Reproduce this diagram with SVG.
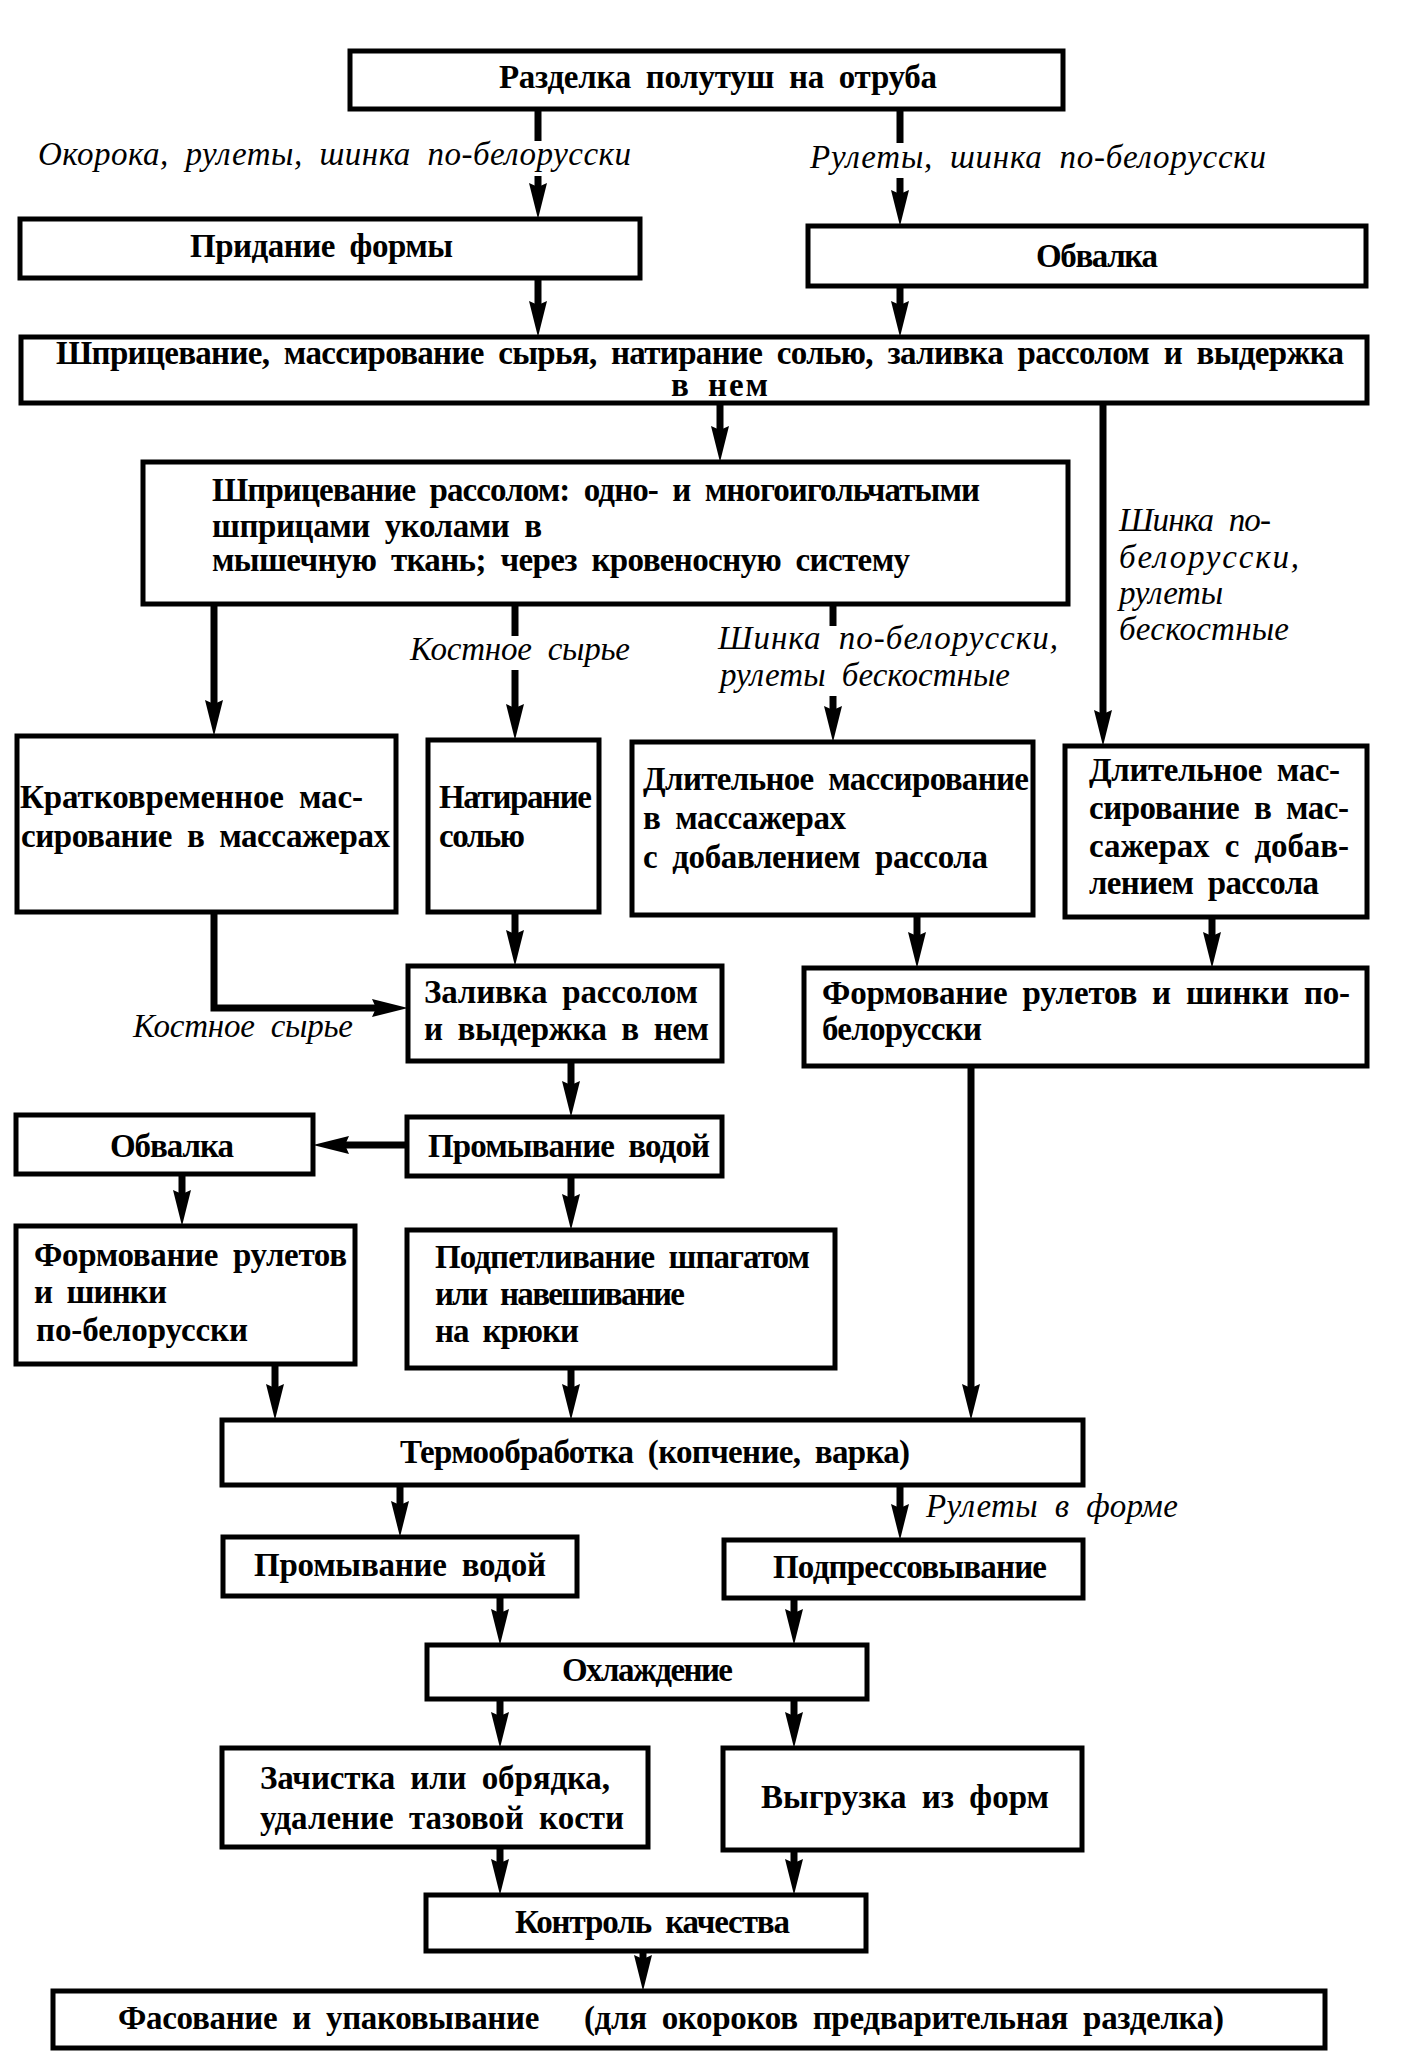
<svg xmlns="http://www.w3.org/2000/svg" width="1401" height="2066" viewBox="0 0 1401 2066">
<defs>
<style>
.box{fill:#fff;stroke:#000;stroke-width:5}
.t{font-family:"Liberation Serif","Times New Roman",serif;font-weight:bold;font-size:33px;word-spacing:7px;fill:#000}
.l{font-family:"Liberation Serif","Times New Roman",serif;font-style:italic;font-size:33px;word-spacing:8px;fill:#000}
.c{fill:none;stroke:#000;stroke-width:7}
.ca{fill:none;stroke:#000;stroke-width:7;marker-end:url(#ah)}
</style>
<marker id="ah" viewBox="0 0 36 18" refX="14" refY="9" markerWidth="36" markerHeight="18" markerUnits="userSpaceOnUse" orient="auto"><path d="M0,0 L36,9 L0,18 L4,9 z" fill="#000"/></marker>
</defs>
<rect x="0" y="0" width="1401" height="2066" fill="#fff"/>

<g id="connectors">
<path class="c" d="M538,109 V141"/>
<path class="ca" d="M538,176 V197"/>
<path class="c" d="M900,110 V143"/>
<path class="ca" d="M900,178 V204"/>
<path class="ca" d="M538,278 V315"/>
<path class="ca" d="M900,286 V315"/>
<path class="ca" d="M720,403 V440"/>
<path class="ca" d="M1103,404 V724"/>
<path class="ca" d="M214,604 V714"/>
<path class="c" d="M515,604 V636"/>
<path class="ca" d="M515,670 V718"/>
<path class="c" d="M833,604 V626"/>
<path class="ca" d="M833,696 V720"/>
<path class="ca" d="M214,912 V1008 H386"/>
<path class="ca" d="M515,912 V944"/>
<path class="ca" d="M917,915 V946"/>
<path class="ca" d="M1212,917 V946"/>
<path class="ca" d="M571,1061 V1095"/>
<path class="ca" d="M407,1145 H335"/>
<path class="ca" d="M182,1174 V1204"/>
<path class="ca" d="M571,1176 V1208"/>
<path class="ca" d="M971,1066 V1398"/>
<path class="ca" d="M275,1364 V1398"/>
<path class="ca" d="M571,1368 V1398"/>
<path class="ca" d="M400,1485 V1515"/>
<path class="ca" d="M900,1485 V1518"/>
<path class="ca" d="M500,1596 V1623"/>
<path class="ca" d="M794,1598 V1623"/>
<path class="ca" d="M500,1699 V1726"/>
<path class="ca" d="M794,1699 V1726"/>
<path class="ca" d="M500,1847 V1873"/>
<path class="ca" d="M794,1850 V1873"/>
<path class="ca" d="M643,1951 V1969"/>
</g>

<g id="labels">
<text class="l" x="38" y="165" textLength="593">Окорока, рулеты, шинка по-белорусски</text>
<text class="l" x="810" y="168" textLength="456">Рулеты, шинка по-белорусски</text>
<text class="l" x="1119" y="531" textLength="152">Шинка по-</text>
<text class="l" x="1119" y="568" textLength="180">белорусски,</text>
<text class="l" x="1119" y="604" textLength="104">рулеты</text>
<text class="l" x="1119" y="640" textLength="170">бескостные</text>
<text class="l" x="410" y="660" textLength="220">Костное сырье</text>
<text class="l" x="718" y="649" textLength="340">Шинка по-белорусски,</text>
<text class="l" x="720" y="686" textLength="290">рулеты бескостные</text>
<text class="l" x="133" y="1037" textLength="220">Костное сырье</text>
<text class="l" x="926" y="1517" textLength="252">Рулеты в форме</text>
</g>

<g id="nA"><rect class="box" x="350" y="51" width="713" height="58"/>
<text class="t" x="499" y="88" textLength="438">Разделка полутуш на отруба</text></g>
<g id="nB"><rect class="box" x="20" y="219" width="620" height="59"/>
<text class="t" x="190" y="257" textLength="263">Придание формы</text></g>
<g id="nC"><rect class="box" x="808" y="226" width="558" height="60"/>
<text class="t" x="1036" y="267" textLength="122">Обвалка</text></g>
<g id="nD"><rect class="box" x="21" y="337" width="1346" height="66"/>
<text class="t" x="56" y="364" textLength="1288">Шприцевание, массирование сырья, натирание солью, заливка рассолом и выдержка</text>
<text class="t" x="671" y="396" textLength="97">в нем</text></g>
<g id="nE"><rect class="box" x="143" y="462" width="925" height="142"/>
<text class="t" x="212" y="501" textLength="768">Шприцевание рассолом: одно- и многоигольчатыми</text>
<text class="t" x="212" y="537" textLength="330">шприцами уколами в</text>
<text class="t" x="212" y="571" textLength="698">мышечную ткань; через кровеносную систему</text></g>
<g id="nF"><rect class="box" x="17" y="736" width="379" height="176"/>
<text class="t" x="20" y="808" textLength="343">Кратковременное мас-</text>
<text class="t" x="21" y="847" textLength="369">сирование в массажерах</text></g>
<g id="nG"><rect class="box" x="428" y="740" width="171" height="172"/>
<text class="t" x="439" y="808" textLength="153">Натирание</text>
<text class="t" x="439" y="847" textLength="86">солью</text></g>
<g id="nH"><rect class="box" x="632" y="742" width="401" height="173"/>
<text class="t" x="643" y="790" textLength="386">Длительное массирование</text>
<text class="t" x="643" y="829" textLength="203">в массажерах</text>
<text class="t" x="643" y="868" textLength="345">с добавлением рассола</text></g>
<g id="nI"><rect class="box" x="1065" y="746" width="302" height="171"/>
<text class="t" x="1089" y="781" textLength="251">Длительное мас-</text>
<text class="t" x="1089" y="819" textLength="260">сирование в мас-</text>
<text class="t" x="1089" y="857" textLength="260">сажерах с добав-</text>
<text class="t" x="1089" y="894" textLength="230">лением рассола</text></g>
<g id="nJ"><rect class="box" x="408" y="966" width="314" height="95"/>
<text class="t" x="424" y="1003" textLength="274">Заливка рассолом</text>
<text class="t" x="424" y="1040" textLength="285">и выдержка в нем</text></g>
<g id="nK"><rect class="box" x="804" y="968" width="563" height="98"/>
<text class="t" x="822" y="1004" textLength="528">Формование рулетов и шинки по-</text>
<text class="t" x="822" y="1040" textLength="160">белорусски</text></g>
<g id="nL"><rect class="box" x="16" y="1115" width="297" height="59"/>
<text class="t" x="110" y="1157" textLength="124">Обвалка</text></g>
<g id="nM"><rect class="box" x="407" y="1117" width="315" height="59"/>
<text class="t" x="428" y="1157" textLength="282">Промывание водой</text></g>
<g id="nN"><rect class="box" x="16" y="1226" width="339" height="138"/>
<text class="t" x="34" y="1266" textLength="313">Формование рулетов</text>
<text class="t" x="34" y="1303" textLength="133">и шинки</text>
<text class="t" x="36" y="1341" textLength="212">по-белорусски</text></g>
<g id="nO"><rect class="box" x="407" y="1230" width="428" height="138"/>
<text class="t" x="435" y="1268" textLength="375">Подпетливание шпагатом</text>
<text class="t" x="435" y="1305" textLength="250">или навешивание</text>
<text class="t" x="435" y="1342" textLength="144">на крюки</text></g>
<g id="nP"><rect class="box" x="222" y="1420" width="861" height="65"/>
<text class="t" x="400" y="1463" textLength="510">Термообработка (копчение, варка)</text></g>
<g id="nQ"><rect class="box" x="223" y="1537" width="354" height="59"/>
<text class="t" x="254" y="1576" textLength="292">Промывание водой</text></g>
<g id="nR"><rect class="box" x="724" y="1540" width="359" height="58"/>
<text class="t" x="773" y="1578" textLength="274">Подпрессовывание</text></g>
<g id="nS"><rect class="box" x="427" y="1645" width="440" height="54"/>
<text class="t" x="562" y="1681" textLength="171">Охлаждение</text></g>
<g id="nT"><rect class="box" x="222" y="1748" width="426" height="99"/>
<text class="t" x="260" y="1789" textLength="350">Зачистка или обрядка,</text>
<text class="t" x="260" y="1829" textLength="364">удаление тазовой кости</text></g>
<g id="nU"><rect class="box" x="723" y="1748" width="359" height="102"/>
<text class="t" x="761" y="1808" textLength="288">Выгрузка из форм</text></g>
<g id="nV"><rect class="box" x="426" y="1895" width="440" height="56"/>
<text class="t" x="515" y="1933" textLength="275">Контроль качества</text></g>
<g id="nW"><rect class="box" x="53" y="1991" width="1272" height="57"/>
<text class="t" x="118" y="2029" textLength="1106" xml:space="preserve">Фасование и упаковывание   (для окороков предварительная разделка)</text></g>
</svg>
